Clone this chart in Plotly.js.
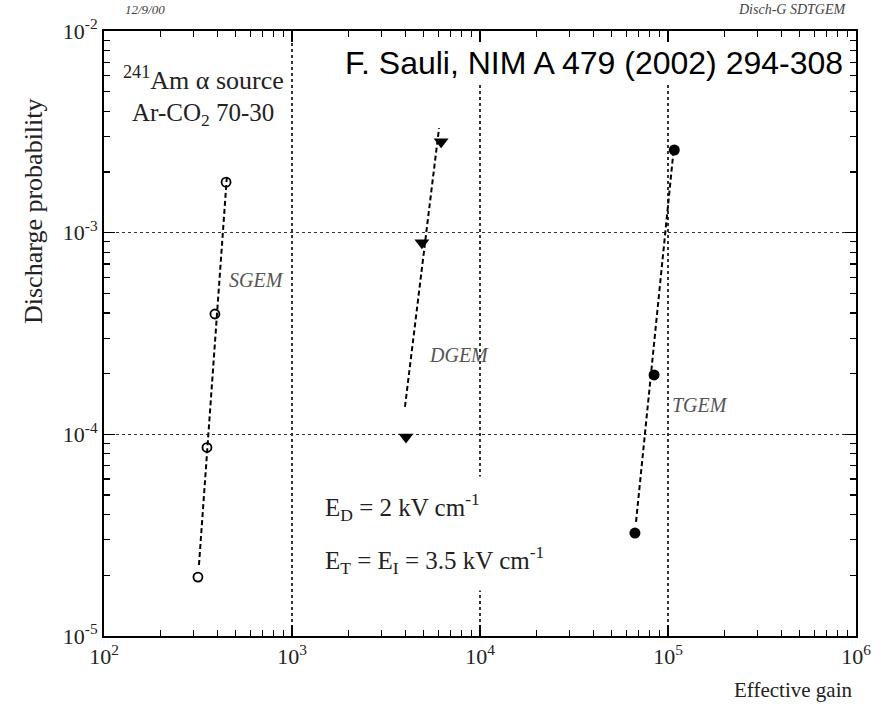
<!DOCTYPE html>
<html>
<head>
<meta charset="utf-8">
<script src="https://cdn.plot.ly/plotly-3.0.1.min.js"></script>
<style>
  html, body { margin: 0; padding: 0; background: #fff; }
  #chart { width: 879px; height: 708px; }
</style>
</head>
<body>
<div id="chart"></div>
<script>
// Discharge probability versus effective gain for single, double and triple GEM
const sgemGain = [316, 353, 389, 446];
const sgemProb = [1.96e-5, 8.6e-5, 3.95e-4, 1.78e-3];
const dgemGain = [4040, 4910, 6210];
const dgemProb = [9.7e-5, 8.9e-4, 2.82e-3];
const tgemGain = [66700, 84300, 108000];
const tgemProb = [3.24e-5, 1.97e-4, 2.57e-3];

// dashed trend lines (end points)
const sgemFitGain = [320, 451];
const sgemFitProb = [2.25e-5, 1.93e-3];
const dgemFitGain = [3990, 6055];
const dgemFitProb = [1.37e-4, 3.30e-3];
const tgemFitGain = [67600, 106500];
const tgemFitProb = [3.68e-5, 2.43e-3];

// axis ticks
const xTickVals = [1e2, 1e3, 1e4, 1e5, 1e6];
const xTickText = ['10<sup>2</sup>', '10<sup>3</sup>', '10<sup>4</sup>', '10<sup>5</sup>', '10<sup>6</sup>'];
const yTickVals = [1e-5, 1e-4, 1e-3, 1e-2];
const yTickText = ['10<sup>-5</sup>', '10<sup>-4</sup>', '10<sup>-3</sup>', '10<sup>-2</sup>'];

function minorTicks(lo, hi) {
  const out = [];
  for (let e = lo; e < hi; e++) {
    for (let m = 2; m <= 9; m++) out.push(m * Math.pow(10, e));
  }
  return out;
}

const SERIF = '"Liberation Serif", "Times New Roman", serif';
const INK = '#000';

const dashLine = { color: INK, width: 2, dash: '5px,3px' };

const traces = [
  { x: sgemFitGain, y: sgemFitProb, mode: 'lines', line: dashLine, hoverinfo: 'skip' },
  { x: dgemFitGain, y: dgemFitProb, mode: 'lines', line: dashLine, hoverinfo: 'skip' },
  { x: tgemFitGain, y: tgemFitProb, mode: 'lines', line: dashLine, hoverinfo: 'skip' },
  { x: sgemGain, y: sgemProb, mode: 'markers', name: 'SGEM',
    marker: { symbol: 'circle-open', size: 9, color: INK, line: { width: 1.8, color: INK } } },
  { x: dgemGain, y: dgemProb, mode: 'markers', name: 'DGEM',
    marker: { symbol: 'triangle-down', size: 13, color: INK } },
  { x: tgemGain, y: tgemProb, mode: 'markers', name: 'TGEM',
    marker: { symbol: 'circle', size: 11, color: INK } }
];

function axisBase() {
  return {
    type: 'log',
    showline: true, linewidth: 2, linecolor: INK,
    mirror: 'allticks',
    ticks: 'inside', ticklen: 11, tickwidth: 1.5, tickcolor: INK,
    tickmode: 'array',
    showgrid: true, gridcolor: '#333', gridwidth: 1.3, griddash: 'dot',
    zeroline: false,
    tickfont: { family: SERIF, size: 22, color: '#222' }
  };
}

const xaxis = Object.assign(axisBase(), {
  range: [2, 6], tickvals: xTickVals, ticktext: xTickText,
  minor: { tickmode: 'array', tickvals: minorTicks(2, 6), ticks: 'inside', ticklen: 6,
           tickwidth: 1.2, tickcolor: INK, showgrid: false }
});
const yaxis = Object.assign(axisBase(), {
  range: [-5, -2], tickvals: yTickVals, ticktext: yTickText,
  minor: { tickmode: 'array', tickvals: minorTicks(-5, -2), ticks: 'inside', ticklen: 6,
           tickwidth: 1.2, tickcolor: INK, showgrid: false }
});

function note(text, x, y, opts) {
  return Object.assign({
    text: text, xref: 'paper', yref: 'paper', x: x, y: y,
    showarrow: false, xanchor: 'left', yanchor: 'middle',
    font: { family: SERIF, size: 25, color: '#222' }
  }, opts || {});
}

const labelFont = { family: SERIF, size: 20, color: '#555', style: 'italic' };

const annotations = [
  note('12/9/00', 0.054, 1.035, { xanchor: 'center',
    font: { family: SERIF, size: 13, color: '#444', style: 'italic' } }),
  note('Disch-G SDTGEM', 0.990, 1.035, { xanchor: 'right',
    font: { family: SERIF, size: 14, color: '#444', style: 'italic' } }),
  note('F. Sauli, NIM A 479 (2002) 294-308', 0.651, 0.947, { xanchor: 'center',
    bgcolor: '#fff', borderpad: 2,
    font: { family: '"Liberation Sans", Arial, sans-serif', size: 32, color: '#000' } }),
  note('<sup>241</sup>Am α source', 0.022, 0.921, { font: { family: SERIF, size: 26, color: '#222' } }),
  note('Ar-CO<sub>2</sub> 70-30', 0.035, 0.862),
  note('SGEM', 0.163, 0.588, { font: labelFont }),
  note('DGEM', 0.430, 0.464, { font: labelFont }),
  note('TGEM', 0.752, 0.382, { font: labelFont }),
  note('E<sub>D</sub> = 2 kV cm<sup>-1</sup>', 0.276, 0.213, { bgcolor: '#fff', borderpad: 12 }),
  note('E<sub>T</sub> = E<sub>I</sub> = 3.5 kV cm<sup>-1</sup>', 0.276, 0.126, { bgcolor: '#fff', borderpad: 12 }),
  note('Effective gain', 0.997, -0.090, { xanchor: 'right', font: { family: SERIF, size: 21, color: '#222' } }),
  note('Discharge probability', -0.094, 0.703, { xanchor: 'center', textangle: -90,
    font: { family: SERIF, size: 26, color: '#222' } })
];

const layout = {
  width: 879, height: 708,
  margin: { l: 104, r: 23, t: 31, b: 72 },
  paper_bgcolor: '#fff', plot_bgcolor: '#fff',
  showlegend: false,
  xaxis: xaxis, yaxis: yaxis,
  annotations: annotations
};

Plotly.newPlot('chart', traces, layout, { staticPlot: true, displayModeBar: false });
</script>
</body>
</html>
